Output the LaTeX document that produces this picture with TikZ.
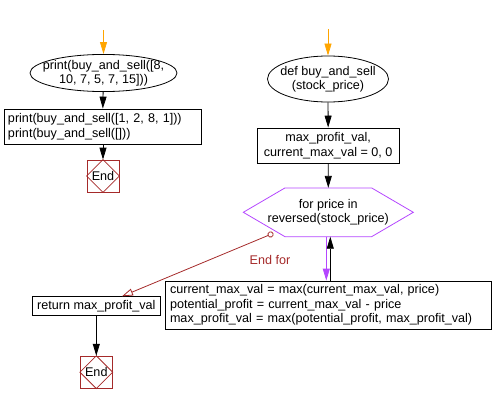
\documentclass[tikz,border=0pt]{standalone}
\usepackage{fontspec}
\setmainfont{Liberation Sans}
\usetikzlibrary{arrows.meta,shapes.geometric}
\definecolor{flowred}{RGB}{165,42,42}
\definecolor{flowpurple}{RGB}{180,70,255}
\definecolor{floworange}{RGB}{255,165,0}
\tikzset{
  flowtext/.style={font=\fontsize{12.6}{14.5}\selectfont},
  startbox/.style={flowtext, ellipse, draw, line width=0.8pt, inner ysep=0pt, align=center},
  stepbox/.style={flowtext, rectangle, draw, line width=0.8pt, inner sep=0pt},
  endbox/.style={flowtext, rectangle, draw=flowred, line width=0.8pt, minimum size=32pt, inner sep=0pt},
  flowarrow/.style={line width=0.8pt, -{Triangle[width=7pt,length=12pt]}},
}
\begin{document}
\begin{tikzpicture}[x=1pt,y=-1pt]
\useasboundingbox (0,0) rectangle (493,404);

%left column: the calls
\node[startbox, inner xsep=-12pt, minimum width=147pt, minimum height=34pt] (call) at (103.5,73) {print(buy\_and\_sell([8,\\10, 7, 5, 7, 15]))};
\node[stepbox, minimum width=197pt, minimum height=35pt, text width=189pt, align=left] (prints) at (102.5,126.5) {print(buy\_and\_sell([1, 2, 8, 1]))\\print(buy\_and\_sell([]))};
\node[endbox] (endcall) at (103,176) {End};

%right column: the function
\node[startbox, inner xsep=-7pt, minimum width=121pt, minimum height=46pt] (def) at (328,79) {def buy\_and\_sell\\(stock\_price)};
\node[stepbox, minimum width=142pt, minimum height=35pt, align=center] (init) at (328.2,145.5) {max\_profit\_val,\\current\_max\_val = 0, 0};
\node[flowtext, inner sep=0pt, align=center] (loop) at (328.3,212.3) {for price in\\reversed(stock\_price)};
\node[stepbox, minimum width=325.6pt, minimum height=48pt, text width=317pt, align=left] (body) at (328.5,305) {current\_max\_val = max(current\_max\_val, price)\\potential\_profit = current\_max\_val - price\\max\_profit\_val = max(potential\_profit, max\_profit\_val)};
\node[stepbox, minimum width=128pt, minimum height=19pt] (ret) at (96.3,306.2) {return max\_profit\_val};
\node[endbox] (endret) at (96.3,372.2) {End};

%draw hexagon of the loop
\draw[flowpurple, line width=0.8pt] ([shift={(-43.3,-24.4)}]loop.center) -- ([shift={(43.3,-24.4)}]loop.center) -- ([shift={(85,0)}]loop.center) -- ([shift={(43.3,24.4)}]loop.center) -- ([shift={(-43.3,24.4)}]loop.center) -- ([shift={(-85,0)}]loop.center) -- cycle;
\coordinate (loopout) at ([shift={(0,24.4)}]loop.center);

%draw diamonds in end boxes
\foreach \e in {endcall,endret}
\draw[flowred, line width=0.8pt] (\e.north) -- (\e.east) -- (\e.south) -- (\e.west) -- cycle;

%entry arrows
\coordinate (callin) at (103.5,30);
\coordinate (defin) at (328,29);
\draw[flowarrow, floworange] (callin) -- (call.north);
\draw[flowarrow, floworange] (defin) -- (def.north);

%flow arrows
\draw[flowarrow] (call) -- (prints);
\draw[flowarrow] (prints.south -| endcall) -- (endcall);
\draw[flowarrow] (def) -- (init);
\draw[flowarrow] (init) -- ([shift={(0,-24.4)}]loop.center);
\draw[flowarrow, flowpurple] ([xshift=-2pt]loopout) -- ([xshift=-2pt]loopout |- body.north);
\draw[flowarrow] ([xshift=2pt]loopout |- body.north) -- ([xshift=2pt]loopout);
\draw[flowarrow] (ret) -- (endret);

%end for
\coordinate (endfor) at (273.3,233.3);
\draw[flowred, line width=0.8pt, {Circle[open,length=6pt,width=6pt]}-{Triangle[open,width=7pt,length=11pt]}] (endfor) -- ([xshift=25.7pt]ret.north);
\node[flowtext, text=flowred] (endforlabel) at (270,260) {End for};
\end{tikzpicture}
\end{document}
